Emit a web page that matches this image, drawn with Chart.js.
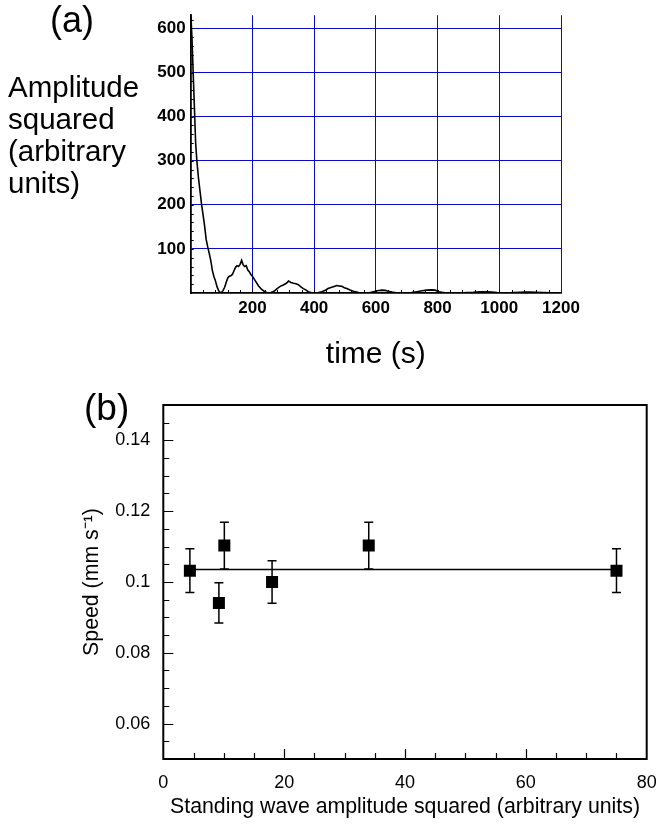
<!DOCTYPE html>
<html>
<head>
<meta charset="utf-8">
<script src="https://cdn.jsdelivr.net/npm/chart.js@4"></script>
<style>
  body { margin: 0; background: #fff; }
  #wrap { position: relative; width: 656px; height: 828px; font-family: 'Liberation Sans', Arial, sans-serif; color: #000; }
  #boxA { position: absolute; left: 0; top: 0; width: 656px; height: 375px; }
  #boxB { position: absolute; left: 0; top: 370px; width: 656px; height: 458px; }
  .lbl { position: absolute; white-space: nowrap; }
</style>
</head>
<body>
<div id="wrap">
  <div id="boxA"><canvas id="ampChart"></canvas></div>
  <div id="boxB"><canvas id="speedChart"></canvas></div>
  <div class="lbl" style="left:50px; top:2px; font-size:36px; line-height:36px;">(a)</div>
  <div class="lbl" style="left:8px; top:71px; font-size:29.5px; line-height:32px;">Amplitude<br>squared<br>(arbitrary<br>units)</div>
  <div class="lbl" style="left:84px; top:389px; font-size:37px; line-height:37px;">(b)</div>
</div>
<script>
// Panel (a): amplitude squared vs time
const timeA = [0, 4, 8, 12, 16, 20, 25, 30, 35, 40, 45, 50, 55, 60, 65, 70, 75, 80, 85, 90,
  95, 100, 105, 110, 115, 120, 125, 130, 135, 140, 145, 150, 155, 160, 165, 170, 175, 180, 185, 190,
  195, 200, 210, 220, 230, 240, 250, 260, 270, 280, 290, 300, 310, 317, 325, 333, 341, 349, 357, 365,
  373, 381, 390, 398, 406, 414, 425, 436, 445, 457, 465, 473, 481, 490, 498, 506, 516, 527, 538, 549,
  560, 571, 581, 592, 605, 619, 630, 641, 652, 663, 680, 700, 716, 733, 750, 765, 780, 792, 805, 814,
  825, 836, 855, 873, 895, 916, 938, 960, 976, 993, 1010, 1025, 1046, 1068, 1085, 1100, 1120, 1143, 1170, 1200];
const ampA = [640, 580, 500, 420, 340, 300, 262, 232, 202, 178, 152, 122, 105, 90, 74, 52, 38, 28, 15, 6,
  1, 1, 6, 13, 24, 34, 38, 39, 42, 50, 58, 62, 60, 65, 74, 64, 60, 62, 52, 48,
  42, 38, 27, 16, 8, 3, 0, 1, 4, 10, 15, 18, 22, 27, 24, 22, 21, 19, 14, 10,
  7, 3, 1, 0, 0, 1, 3, 6, 10, 13, 15, 17, 16, 15, 12, 10, 7, 4, 2, 0,
  0, 0, 1, 3, 5, 6.5, 6, 4, 2, 1, 0.5, 0, 1, 3, 5, 6.5, 7, 6.5, 3, 1.5,
  0.5, 0, 0, 0, 1, 1.5, 2.5, 3, 2, 1, 0.3, 0, 1, 1.5, 2, 2, 1.5, 1, 0.5, 0];
const xTicksA = [200, 400, 600, 800, 1000, 1200];
const yTicksA = [100, 200, 300, 400, 500, 600];

// Panel (b): speed vs standing wave amplitude squared
const ampB = [4.4, 9.2, 10.1, 18.0, 34.0, 75.0];
const speedB = [0.1032, 0.0941, 0.1103, 0.1000, 0.1103, 0.1032];
const speedErr = [0.0062, 0.0057, 0.0066, 0.0060, 0.0066, 0.0062];
const fitX = [4.4, 75];
const fitY = [0.1035, 0.1035];
const xTicksB = [0, 20, 40, 60, 80];
const yTicksB = [0.06, 0.08, 0.1, 0.12, 0.14];

Chart.defaults.font.family = "'Liberation Sans', Arial, sans-serif";
Chart.defaults.color = '#000';

// small inward tick marks and optional frame, placed with the chart's scales
const frameTicks = {
  id: 'frameTicks',
  afterDatasetsDraw(chart, args, opts) {
    const {ctx, chartArea: a} = chart;
    ctx.save();
    ctx.strokeStyle = '#000';
    (opts.marks || []).forEach(m => {
      const s = chart.scales[m.axis];
      ctx.lineWidth = m.width || 1;
      ctx.beginPath();
      for (let v = m.from; v <= m.to + 1e-9; v += m.step) {
        const r = m.majorEvery ? v / m.majorEvery : 0.5;
        const len = Math.abs(r - Math.round(r)) < 1e-6 ? m.majorLen : m.len;
        const p = Math.round(s.getPixelForValue(v)) + 0.5;
        if (s.isHorizontal()) {
          ctx.moveTo(p, a.bottom);
          ctx.lineTo(p, a.bottom - len);
        } else {
          ctx.moveTo(a.left, p);
          ctx.lineTo(a.left + len, p);
        }
      }
      ctx.stroke();
    });
    if (opts.frame) {
      ctx.lineWidth = opts.frame;
      ctx.strokeRect(a.left, a.top, a.width, a.height);
    }
    ctx.restore();
  }
};

const errorBars = {
  id: 'errorBars',
  beforeDatasetsDraw(chart) {
    const {ctx} = chart;
    const meta = chart.getDatasetMeta(0);
    const ys = chart.scales.y;
    ctx.save();
    ctx.strokeStyle = '#000';
    ctx.lineWidth = 1.5;
    meta.data.forEach((pt, i) => {
      const top = ys.getPixelForValue(speedB[i] + speedErr[i]);
      const bot = ys.getPixelForValue(speedB[i] - speedErr[i]);
      ctx.beginPath();
      ctx.moveTo(pt.x, top); ctx.lineTo(pt.x, bot);
      ctx.moveTo(pt.x - 4.5, top); ctx.lineTo(pt.x + 4.5, top);
      ctx.moveTo(pt.x - 4.5, bot); ctx.lineTo(pt.x + 4.5, bot);
      ctx.stroke();
    });
    ctx.restore();
  }
};

const gridBlue = 'rgb(10, 10, 200)';

const ctxAmp = document.getElementById('ampChart').getContext('2d');
const ampChart = new Chart(ctxAmp, {
  type: 'scatter',
  data: {
    datasets: [{
      data: timeA.map((t, i) => ({x: t, y: ampA[i]})),
      showLine: true,
      borderColor: '#000',
      borderWidth: 1.6,
      pointRadius: 0,
      tension: 0
    }]
  },
  plugins: [frameTicks],
  options: {
    responsive: true,
    maintainAspectRatio: false,
    animation: false,
    layout: { padding: { left: 0, right: 95, top: 4, bottom: 0 } },
    plugins: {
      legend: { display: false },
      tooltip: { enabled: false },
      frameTicks: {
        marks: [
          { axis: 'x', from: 40, to: 1160, step: 40, len: 3, majorLen: 3 },
          { axis: 'y', from: 20, to: 620, step: 20, len: 3, majorLen: 3 }
        ]
      }
    },
    scales: {
      x: {
        type: 'linear',
        min: 0,
        max: 1200,
        afterBuildTicks: s => { s.ticks = xTicksA.map(v => ({value: v})); },
        afterFit: s => { s.height = 82; s.paddingLeft = 0; s.paddingRight = 0; },
        grid: { color: gridBlue, lineWidth: 1, drawTicks: false },
        border: { color: '#000', width: 1.8 },
        ticks: { padding: 5, font: { size: 17, weight: 'bold' }, callback: v => String(v) },
        title: { display: true, text: 'time (s)', font: { size: 30 }, padding: { top: 0, bottom: 2 } }
      },
      y: {
        min: 0,
        max: 630,
        afterBuildTicks: s => { s.ticks = yTicksA.map(v => ({value: v})); },
        afterFit: s => { s.width = 190.7; },
        grid: { color: gridBlue, lineWidth: 1, drawTicks: false },
        border: { color: '#000', width: 1.8 },
        ticks: { padding: 5, font: { size: 17, weight: 'bold' }, callback: v => String(v) }
      }
    }
  }
});

const ctxSpeed = document.getElementById('speedChart').getContext('2d');
const speedChart = new Chart(ctxSpeed, {
  type: 'scatter',
  data: {
    datasets: [{
      data: ampB.map((a, i) => ({x: a, y: speedB[i]})),
      pointStyle: 'rect',
      pointRadius: 8.5,
      backgroundColor: '#000',
      borderColor: '#000',
      borderWidth: 0
    }, {
      data: fitX.map((a, i) => ({x: a, y: fitY[i]})),
      showLine: true,
      borderColor: '#000',
      borderWidth: 1.5,
      pointRadius: 0
    }]
  },
  plugins: [frameTicks, errorBars],
  options: {
    responsive: true,
    maintainAspectRatio: false,
    animation: false,
    layout: { padding: { left: 0, right: 9.3, top: 35, bottom: 0 } },
    plugins: {
      legend: { display: false },
      tooltip: { enabled: false },
      frameTicks: {
        frame: 2,
        marks: [
          { axis: 'x', from: 5, to: 75, step: 5, len: 6, majorLen: 10, majorEvery: 20, width: 1.2 },
          { axis: 'y', from: 0.055, to: 0.145, step: 0.005, len: 6, majorLen: 10, majorEvery: 0.02, width: 1.2 }
        ]
      }
    },
    scales: {
      x: {
        type: 'linear',
        min: 0,
        max: 80,
        afterBuildTicks: s => { s.ticks = xTicksB.map(v => ({value: v})); },
        afterFit: s => { s.height = 69; s.paddingLeft = 0; s.paddingRight = 0; },
        grid: { display: false, drawTicks: false },
        border: { display: false },
        ticks: { padding: 13, font: { size: 18 } },
        title: {
          display: true,
          text: 'Standing wave amplitude squared (arbitrary units)',
          font: { size: 21.3 },
          padding: { top: 0, bottom: 8 }
        }
      },
      y: {
        min: 0.05,
        max: 0.15,
        afterBuildTicks: s => { s.ticks = yTicksB.map(v => ({value: v})); },
        afterFit: s => { s.width = 163.3; },
        grid: { display: false, drawTicks: false },
        border: { display: false },
        ticks: { padding: 13, font: { size: 18 }, callback: v => String(v) },
        title: {
          display: true,
          text: 'Speed (mm s\u207B\u00B9)',
          font: { size: 21.3 },
          padding: { top: 79, bottom: 0 }
        }
      }
    }
  }
});
</script>
</body>
</html>
